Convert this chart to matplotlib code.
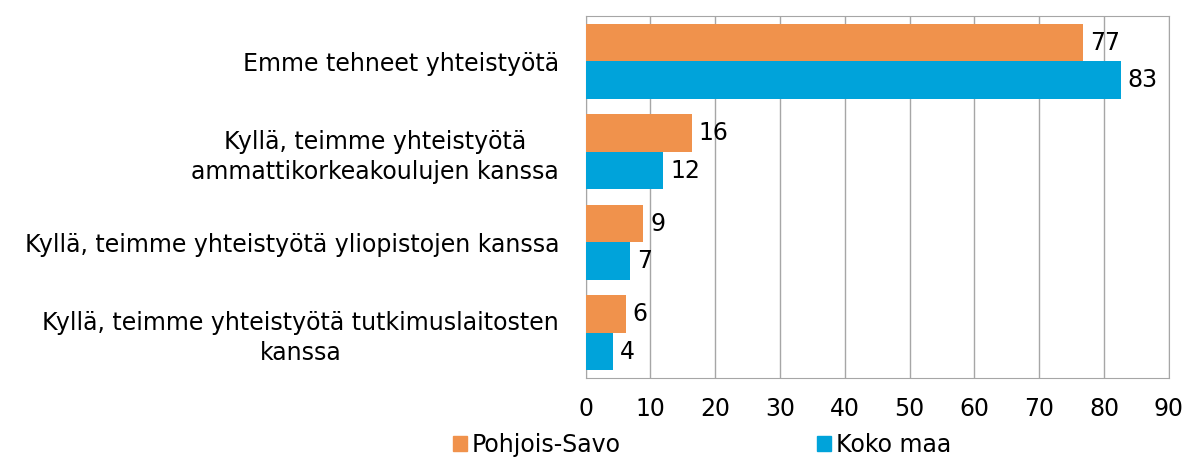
import matplotlib.pyplot as plt
import numpy as np
from matplotlib.patches import Patch

categories = ['Emme tehneet yhteistyötä',
              'Kyllä, teimme yhteistyötä\nammattikorkeakoulujen kanssa',
              'Kyllä, teimme yhteistyötä yliopistojen kanssa',
              'Kyllä, teimme yhteistyötä tutkimuslaitosten\nkanssa']
pohjois_savo = [76.8, 16.4, 8.9, 6.2]
koko_maa = [82.6, 12.0, 6.9, 4.2]
series_names = ['Pohjois-Savo', 'Koko maa']
xticks = list(range(0, 91, 10))

c_orange = '#F0924C'
c_blue = '#00A3DA'
fs = 17

plt.rcParams['font.family'] = 'DejaVu Sans'
fig = plt.figure(figsize=(12, 4.61), dpi=100)
ax = fig.add_axes([0.488, 0.18, 0.486, 0.785])

y = np.arange(len(categories))
h = 0.415
b1 = ax.barh(y - h/2, pohjois_savo, height=h, color=c_orange, zorder=3)
b2 = ax.barh(y + h/2, koko_maa, height=h, color=c_blue, zorder=3)
for bars in (b1, b2):
	ax.bar_label(bars, labels=['%.0f' % b.get_width() for b in bars],
				 padding=5, fontsize=fs, color='black')

ax.set_ylim(len(categories) - 0.5, -0.5)
ax.set_xlim(0, 90)
ax.set_xticks(xticks)
ax.set_yticks(y)
ax.set_yticklabels(categories, fontsize=fs, multialignment='center', linespacing=1.3)
ax.tick_params(axis='x', length=0, pad=14, labelsize=fs)
ax.tick_params(axis='y', length=0, pad=19)
ax.grid(axis='x', color='#A6A6A6', linewidth=1, zorder=0)
for s in ax.spines.values():
	s.set_color('#A6A6A6')

handles = [Patch(color=c_orange), Patch(color=c_blue)]
fig.legend(handles, series_names, loc='center', bbox_to_anchor=(0.585, 0.035),
		   ncol=2, frameon=False, fontsize=fs, columnspacing=8.3,
		   handlelength=0.6, handleheight=0.6, handletextpad=0.2,
		   borderpad=0.1)

plt.savefig('out.png')
